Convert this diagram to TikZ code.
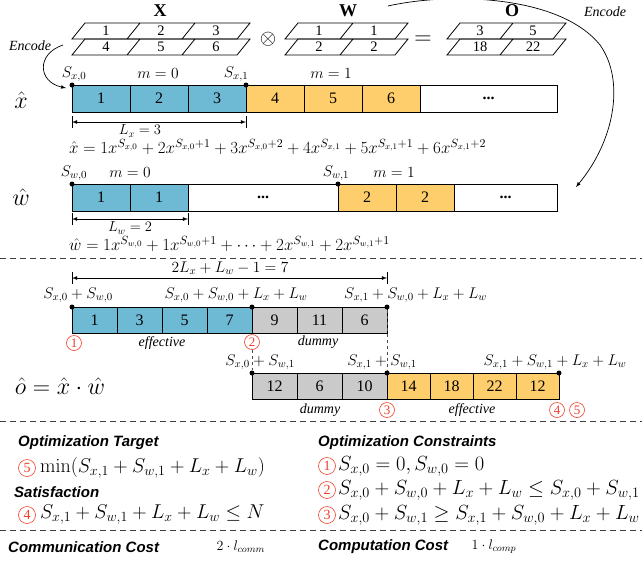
\RequirePackage{fix-cm}
\documentclass[tikz,border=0pt]{standalone}
\usepackage{amsmath,amssymb}
\usepackage[no-math]{fontspec}
\setmainfont{Liberation Serif}
\newfontfamily\headfont{Liberation Sans}
\usepackage{tikz}
\usetikzlibrary{positioning}

\definecolor{cellblue}{RGB}{110,186,212}
\definecolor{cellyellow}{RGB}{255,206,108}
\definecolor{cellgray}{RGB}{202,202,202}
\definecolor{markred}{RGB}{238,62,42}

\begin{document}
\begin{tikzpicture}[x=1pt,y=-1pt]
\tikzstyle{cell}=[draw,line width=.8pt,minimum height=27pt,inner sep=0pt,font=\fontsize{16}{16}\selectfont]
\tikzstyle{xcell}=[cell,minimum width=58pt]
\tikzstyle{ocell}=[cell,minimum width=45pt,minimum height=26pt]
\tikzstyle{ecell}=[cell,minimum width=43pt,minimum height=26pt]
\tikzstyle{dot}=[circle,fill=black,minimum size=5pt,inner sep=0pt]
\tikzstyle{lbl}=[font=\fontsize{15.5}{15.5}\selectfont,inner sep=1pt]
\tikzstyle{dim}=[font=\fontsize{14.5}{14.5}\selectfont,inner sep=1pt]
\tikzstyle{form}=[anchor=west,inner sep=1pt,font=\fontsize{17}{17}\selectfont]
\tikzstyle{num}=[font=\fontsize{14.5}{14.5}\selectfont,inner sep=1pt]
\tikzstyle{big}=[font=\fontsize{24}{24}\selectfont]
\tikzstyle{note}=[font=\fontsize{14}{14}\selectfont\itshape]
\tikzstyle{cmark}=[circle,draw=markred,text=markred,inner sep=0pt,minimum size=15pt,line width=.6pt,font=\fontsize{13}{13}\selectfont]
\tikzstyle{bmark}=[cmark,minimum size=17pt,font=\fontsize{14}{14}\selectfont]
\tikzstyle{head}=[anchor=west,inner sep=0pt,font=\headfont\bfseries\itshape\fontsize{15}{15}\selectfont]
\tikzstyle{cond}=[anchor=west,inner sep=0pt,font=\fontsize{20}{20}\selectfont]
\tikzstyle{rcond}=[cond,font=\fontsize{20.5}{20.5}\selectfont]
\tikzstyle{sep}=[dash pattern=on 6pt off 4pt,line width=.9pt,black!75]
\tikzstyle{mat}=[line width=.8pt]
\useasboundingbox (0,0) rectangle (642,560);

% matrices X (x) W = O
\node[font=\fontsize{18}{18}\selectfont\bfseries] (X) at (160,11) {X};
\node[font=\fontsize{18}{18}\selectfont\bfseries] (W) at (348,11) {W};
\node[font=\fontsize{18}{18}\selectfont\bfseries] (O) at (512,11) {O};
\draw[mat] (72,39) -- (85,23) -- (250,23) -- (237,39) -- cycle (127,39) -- (140,23) (182,39) -- (195,23);
\draw[mat] (72,55) -- (85,39) -- (250,39) -- (237,55) -- cycle (127,55) -- (140,39) (182,55) -- (195,39);
\draw[mat] (285,39) -- (298,23) -- (408,23) -- (395,39) -- cycle (340,39) -- (353,23);
\draw[mat] (285,55) -- (298,39) -- (408,39) -- (395,55) -- cycle (340,55) -- (353,39);
\draw[mat] (447,39) -- (460,23) -- (566,23) -- (553,39) -- cycle (500,39) -- (513,23);
\draw[mat] (447,55) -- (460,39) -- (566,39) -- (553,55) -- cycle (500,55) -- (513,39);
\node[num] (x11) at (106,31) {1};
\node[num] (x12) at (161,31) {2};
\node[num] (x13) at (216,31) {3};
\node[num] (x21) at (106,47) {4};
\node[num] (x22) at (161,47) {5};
\node[num] (x23) at (216,47) {6};
\node[num] (w11) at (319,31) {1};
\node[num] (w12) at (374,31) {1};
\node[num] (w21) at (319,47) {2};
\node[num] (w22) at (374,47) {2};
\node[num] (o11) at (480,31) {3};
\node[num] (o12) at (533,31) {5};
\node[num] (o21) at (480,47) {18};
\node[num] (o22) at (533,47) {22};
\node[font=\fontsize{21}{21}\selectfont] (times) at (268,39) {$\otimes$};
\node[font=\fontsize{24}{24}\selectfont] (eq) at (423,40) {$=$};

% encoding arrows
\node[note] (encx) at (30,46) {Encode};
\node[note] (encw) at (605,12) {Encode};
\coordinate (ex0) at (63,45);
\coordinate (ex1) at (66,88);
\coordinate (ew0) at (388,6);
\coordinate (ew1) at (600,45);
\coordinate (ew2) at (576,187);
\draw[->,-latex,line width=.7pt] (ex0) .. controls (36,54) and (38,82) .. (ex1);
\draw[->,-latex,line width=.7pt] (ew0) .. controls (450,-8) and (560,-5) .. (ew1) .. controls (625,80) and (615,140) .. (ew2);

% encoded x
\node[big] (xh) at (21,100) {$\hat{x}$};
\node[xcell,fill=cellblue] (xa1) at (101,98.5) {1};
\node[xcell,fill=cellblue] (xa2) at (159,98.5) {2};
\node[xcell,fill=cellblue] (xa3) at (217,98.5) {3};
\node[xcell,fill=cellyellow] (xb1) at (275,98.5) {4};
\node[xcell,fill=cellyellow] (xb2) at (333,98.5) {5};
\node[xcell,fill=cellyellow] (xb3) at (391,98.5) {6};
\node[cell,minimum width=137pt] (xrest) at (488.5,98.5) {\textbf{...}};
\node[dot] (dx0) at (72,85) {};
\node[dot] (dx1) at (246,85) {};
\node[lbl] (sx0) at (74,74) {$S_{x,0}$};
\node[lbl] (mx0) at (158,74) {$m=0$};
\node[lbl] (sx1) at (236,74) {$S_{x,1}$};
\node[lbl] (mx1) at (331,74) {$m=1$};
\coordinate (lx0) at (72,122);
\coordinate (lx1) at (246,122);
\draw[line width=.8pt] (72,116) -- (72,128) (246,116) -- (246,128);
\draw[latex-latex,line width=.8pt] (lx0) -- (lx1);
\node[dim] (lx) at (140,131) {$L_x=3$};
\node[form] (xfor) at (68,147) {$\hat{x}=1x^{S_{x,0}}+2x^{S_{x,0}+1}+3x^{S_{x,0}+2}+4x^{S_{x,1}}+5x^{S_{x,1}+1}+6x^{S_{x,1}+2}$};

% encoded w
\node[big] (wh) at (21,197) {$\hat{w}$};
\node[xcell,fill=cellblue] (wa1) at (101,197.5) {1};
\node[xcell,fill=cellblue] (wa2) at (159,197.5) {1};
\node[cell,minimum width=150pt] (wgap) at (263,197.5) {\textbf{...}};
\node[xcell,fill=cellyellow] (wb1) at (367,197.5) {2};
\node[xcell,fill=cellyellow] (wb2) at (425,197.5) {2};
\node[cell,minimum width=103pt] (wrest) at (505.5,197.5) {\textbf{...}};
\node[dot] (dw0) at (72,184) {};
\node[dot] (dw1) at (338,184) {};
\node[lbl] (sw0) at (74,173) {$S_{w,0}$};
\node[lbl] (mw0) at (130,173) {$m=0$};
\node[lbl] (sw1) at (336,173) {$S_{w,1}$};
\node[lbl] (mw1) at (394,173) {$m=1$};
\coordinate (lw0) at (72,219);
\coordinate (lw1) at (188,219);
\draw[line width=.8pt] (72,213) -- (72,225) (188,213) -- (188,225);
\draw[latex-latex,line width=.8pt] (lw0) -- (lw1);
\node[dim] (lw) at (130,228) {$L_w=2$};
\node[form] (wfor) at (68,244) {$\hat{w}=1x^{S_{w,0}}+1x^{S_{w,0}+1}+\cdots+2x^{S_{w,1}}+2x^{S_{w,1}+1}$};

\draw[sep] (0,258) -- (642,258);

% product o
\node[lbl] (len) at (230,268) {$2L_x+L_w-1=7$};
\coordinate (lo0) at (72,278);
\coordinate (lo1) at (387,278);
\draw[line width=.8pt] (72,272) -- (72,284) (387,272) -- (387,284);
\draw[latex-latex,line width=.8pt] (lo0) -- (lo1);
\node[lbl] (p0) at (78,295) {$S_{x,0}+S_{w,0}$};
\node[lbl] (p1) at (236,295) {$S_{x,0}+S_{w,0}+L_x+L_w$};
\node[lbl,anchor=west] (p2) at (343,295) {$S_{x,1}+S_{w,0}+L_x+L_w$};
\node[ocell,fill=cellblue] (oa1) at (94.5,320) {1};
\node[ocell,fill=cellblue] (oa2) at (139.5,320) {3};
\node[ocell,fill=cellblue] (oa3) at (184.5,320) {5};
\node[ocell,fill=cellblue] (oa4) at (229.5,320) {7};
\node[ocell,fill=cellgray] (oa5) at (274.5,320) {9};
\node[ocell,fill=cellgray] (oa6) at (319.5,320) {11};
\node[ocell,fill=cellgray] (oa7) at (364.5,320) {6};
\node[dot] (da0) at (72,307) {};
\node[dot] (da1) at (252,307) {};
\node[dot] (da2) at (387,307) {};
\node[cmark] (c1) at (74,343) {1};
\node[cmark] (c2) at (252,342) {2};
\node[note] (effa) at (162,343) {effective};
\node[note] (duma) at (318,342) {dummy};

\node[big] (oh) at (60,386) {$\hat{o}=\hat{x}\cdot\hat{w}$};
\node[ocell,fill=cellgray] (ob1) at (274.5,386.5) {12};
\node[ocell,fill=cellgray] (ob2) at (319.5,386.5) {6};
\node[ocell,fill=cellgray] (ob3) at (364.5,386.5) {10};
\node[ecell,fill=cellyellow] (ob4) at (408.5,386.5) {14};
\node[ecell,fill=cellyellow] (ob5) at (451.5,386.5) {18};
\node[ecell,fill=cellyellow] (ob6) at (494.5,386.5) {22};
\node[ecell,fill=cellyellow] (ob7) at (537.5,386.5) {12};
\node[dot] (db0) at (252,373) {};
\node[dot] (db1) at (387,373) {};
\node[dot] (db2) at (559,373) {};
\draw[dashed,black!70,line width=.6pt] (c2) -- (db0);
\draw[dashed,black!70,line width=.6pt] (da2) -- (db1);
\node[lbl] (q0) at (260,362) {$S_{x,0}+S_{w,1}$};
\node[lbl] (q1) at (382,362) {$S_{x,1}+S_{w,1}$};
\node[lbl] (q2) at (555,362) {$S_{x,1}+S_{w,1}+L_x+L_w$};
\node[note] (dumb) at (320,410) {dummy};
\node[cmark] (c3) at (387,410) {3};
\node[note] (effb) at (472,410) {effective};
\node[cmark] (c4) at (557,410) {4};
\node[cmark] (c5) at (577,410) {5};

\draw[sep] (0,421) -- (642,421);

% optimization problem
\node[head] (tgt) at (18,443) {Optimization Target};
\node[bmark] (t5) at (27,468) {5};
\node[cond] (tgtf) at (40,468) {$\min(S_{x,1}+S_{w,1}+L_x+L_w)$};
\node[head] (sat) at (14,492) {Satisfaction};
\node[bmark] (t4) at (27,515) {4};
\node[cond] (satf) at (40,515) {$S_{x,1}+S_{w,1}+L_x+L_w\leq N$};
\node[head] (cst) at (318,443) {Optimization Constraints};
\node[bmark] (k1) at (327,466) {1};
\node[rcond] (k1f) at (338,466) {$S_{x,0}=0,S_{w,0}=0$};
\node[bmark] (k2) at (327,490) {2};
\node[rcond] (k2f) at (338,490) {$S_{x,0}+S_{w,0}+L_x+L_w\leq S_{x,0}+S_{w,1}$};
\node[bmark] (k3) at (327,515) {3};
\node[rcond] (k3f) at (338,515) {$S_{x,0}+S_{w,1}\geq S_{x,1}+S_{w,0}+L_x+L_w$};

\draw[sep] (0,530) -- (642,530);

% costs
\node[head] (comm) at (8,547) {Communication Cost};
\node[anchor=west,font=\fontsize{14}{14}\selectfont] (commv) at (213,547) {$2\cdot l_{comm}$};
\node[head] (comp) at (318,547) {Computation Cost};
\node[anchor=west,font=\fontsize{14}{14}\selectfont] (compv) at (468,547) {$1\cdot l_{comp}$};
\end{tikzpicture}
\end{document}
